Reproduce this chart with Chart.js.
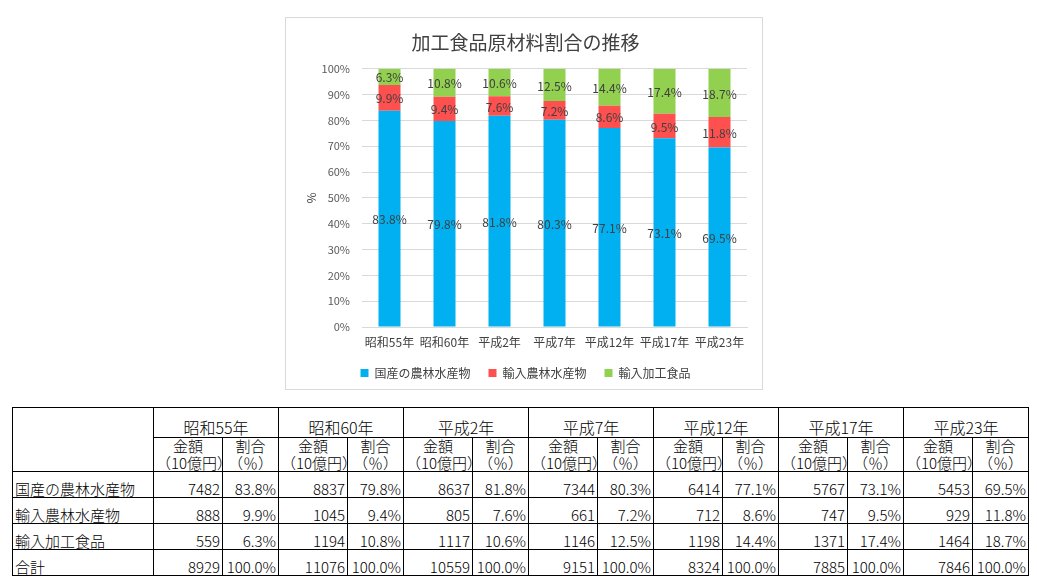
<!DOCTYPE html>
<html lang="ja">
<head>
<meta charset="utf-8">
<title>加工食品原材料割合の推移</title>
<script src="https://cdn.jsdelivr.net/npm/chart.js@4.4.1/dist/chart.umd.min.js"></script>
<style>
  body {
    margin: 0;
    width: 1037px;
    height: 588px;
    position: relative;
    overflow: hidden;
    background: #fff;
    font-family: 'Noto Sans CJK JP', sans-serif;
  }
  #chartBox {
    position: absolute;
    left: 285px;
    top: 17px;
    width: 476px;
    height: 371px;
    border: 1px solid #d9d9d9;
  }
  #dataTable {
    position: absolute;
    left: 12px;
    top: 407px;
    width: 1016px;
    border-collapse: collapse;
    table-layout: fixed;
    font-size: 15px;
    font-weight: 300;
    color: #000;
  }
  #dataTable td {
    border: 1px solid #000;
    padding: 0 2px;
    vertical-align: bottom;
    line-height: 1.1;
    white-space: nowrap;
    overflow: hidden;
  }
  #dataTable td.year { text-align: center; font-size: 16px; }
  #dataTable td.head { text-align: center; }
  #dataTable td.num { text-align: right; }
</style>
</head>
<body>
<div id="chartBox"><canvas id="shareChart"></canvas></div>
<table id="dataTable"></table>
<script>
// 年次
const years = ['昭和55年', '昭和60年', '平成2年', '平成7年', '平成12年', '平成17年', '平成23年'];
const seriesNames = ['国産の農林水産物', '輸入農林水産物', '輸入加工食品'];

// 割合 (%)
const shareDomestic = [83.8, 79.8, 81.8, 80.3, 77.1, 73.1, 69.5];
const shareImportRaw = [9.9, 9.4, 7.6, 7.2, 8.6, 9.5, 11.8];
const shareImportProc = [6.3, 10.8, 10.6, 12.5, 14.4, 17.4, 18.7];

// 金額 (10億円)
const amountDomestic = [7482, 8837, 8637, 7344, 6414, 5767, 5453];
const amountImportRaw = [888, 1045, 805, 661, 712, 747, 929];
const amountImportProc = [559, 1194, 1117, 1146, 1198, 1371, 1464];
const amountTotal = [8929, 11076, 10559, 9151, 8324, 7885, 7846];

const yTicks = [0, 10, 20, 30, 40, 50, 60, 70, 80, 90, 100];

Chart.defaults.font.family = "'Noto Sans CJK JP', sans-serif";

// bar value labels, drawn in the middle of each segment
const barLabels = {
    id: 'barLabels',
    afterDatasetsDraw(chart) {
        const c = chart.ctx;
        c.save();
        c.font = "12px 'Noto Sans CJK JP', sans-serif";
        c.fillStyle = '#404040';
        c.textAlign = 'center';
        c.textBaseline = 'middle';
        chart.data.datasets.forEach((ds, i) => {
            chart.getDatasetMeta(i).data.forEach((bar, j) => {
                const p = bar.getCenterPoint();
                c.fillText(ds.data[j].toFixed(1) + '%', p.x, p.y + 1);
            });
        });
        c.restore();
    }
};

const ctx = document.getElementById('shareChart').getContext('2d');
const myChart = new Chart(ctx, {
    type: 'bar',
    data: {
        labels: years,
        datasets: [{
            label: seriesNames[0],
            data: shareDomestic,
            backgroundColor: '#00b0f0'
        }, {
            label: seriesNames[1],
            data: shareImportRaw,
            backgroundColor: '#ff5050'
        }, {
            label: seriesNames[2],
            data: shareImportProc,
            backgroundColor: '#92d050'
        }]
    },
    options: {
        responsive: true,
        maintainAspectRatio: false,
        animation: false,
        datasets: { bar: { categoryPercentage: 1, barPercentage: 0.4 } },
        layout: { padding: { top: 0, left: 18, right: 15, bottom: 1 } },
        plugins: {
            title: {
                display: true,
                text: '加工食品原材料割合の推移',
                color: '#404040',
                font: { size: 19, weight: 'normal' },
                padding: { top: 13, bottom: 15 }
            },
            legend: {
                position: 'bottom',
                maxHeight: 39,
                labels: {
                    boxWidth: 8,
                    boxHeight: 8,
                    padding: 18,
                    color: '#404040',
                    font: { size: 12 }
                }
            },
            tooltip: { enabled: false }
        },
        scales: {
            x: {
                stacked: true,
                grid: { display: false, drawTicks: false },
                border: { color: '#d9d9d9' },
                ticks: { color: '#404040', font: { size: 12 }, padding: 8, maxRotation: 0 },
                afterFit: (scale) => { scale.height = 22; }
            },
            y: {
                stacked: true,
                min: 0,
                max: 100,
                afterBuildTicks: (scale) => { scale.ticks = yTicks.map(v => ({ value: v })); },
                grid: { color: '#d9d9d9', drawTicks: false },
                border: { display: false },
                ticks: {
                    color: '#595959',
                    font: { size: 11 },
                    padding: 12,
                    callback: (v) => v + '%'
                },
                title: {
                    display: true,
                    text: '%',
                    color: '#404040',
                    font: { size: 12 },
                    padding: { top: 0, bottom: 0 }
                },
                afterFit: (scale) => { scale.width = 58; }
            }
        }
    },
    plugins: [barLabels]
});

// data table under the chart
function buildTable() {
    const table = document.getElementById('dataTable');
    let html = '<colgroup><col style="width:141px">';
    years.forEach(() => { html += '<col style="width:69px"><col style="width:56px">'; });
    html += '</colgroup>';

    html += '<tr style="height:30px"><td rowspan="2"></td>';
    years.forEach(y => { html += `<td class="year" colspan="2">${y}</td>`; });
    html += '</tr>';

    html += '<tr style="height:34px">';
    years.forEach(() => {
        html += '<td class="head">金額<br>（10億円）</td><td class="head">割合<br>（％）</td>';
    });
    html += '</tr>';

    const rows = [
        [seriesNames[0], amountDomestic, shareDomestic],
        [seriesNames[1], amountImportRaw, shareImportRaw],
        [seriesNames[2], amountImportProc, shareImportProc],
        ['合計', amountTotal, amountTotal.map(() => 100)]
    ];
    rows.forEach(([name, amounts, shares]) => {
        html += `<tr style="height:26px"><td>${name}</td>`;
        amounts.forEach((a, i) => {
            html += `<td class="num">${a}</td><td class="num">${shares[i].toFixed(1)}%</td>`;
        });
        html += '</tr>';
    });
    table.innerHTML = html;
}

buildTable();
</script>
</body>
</html>
